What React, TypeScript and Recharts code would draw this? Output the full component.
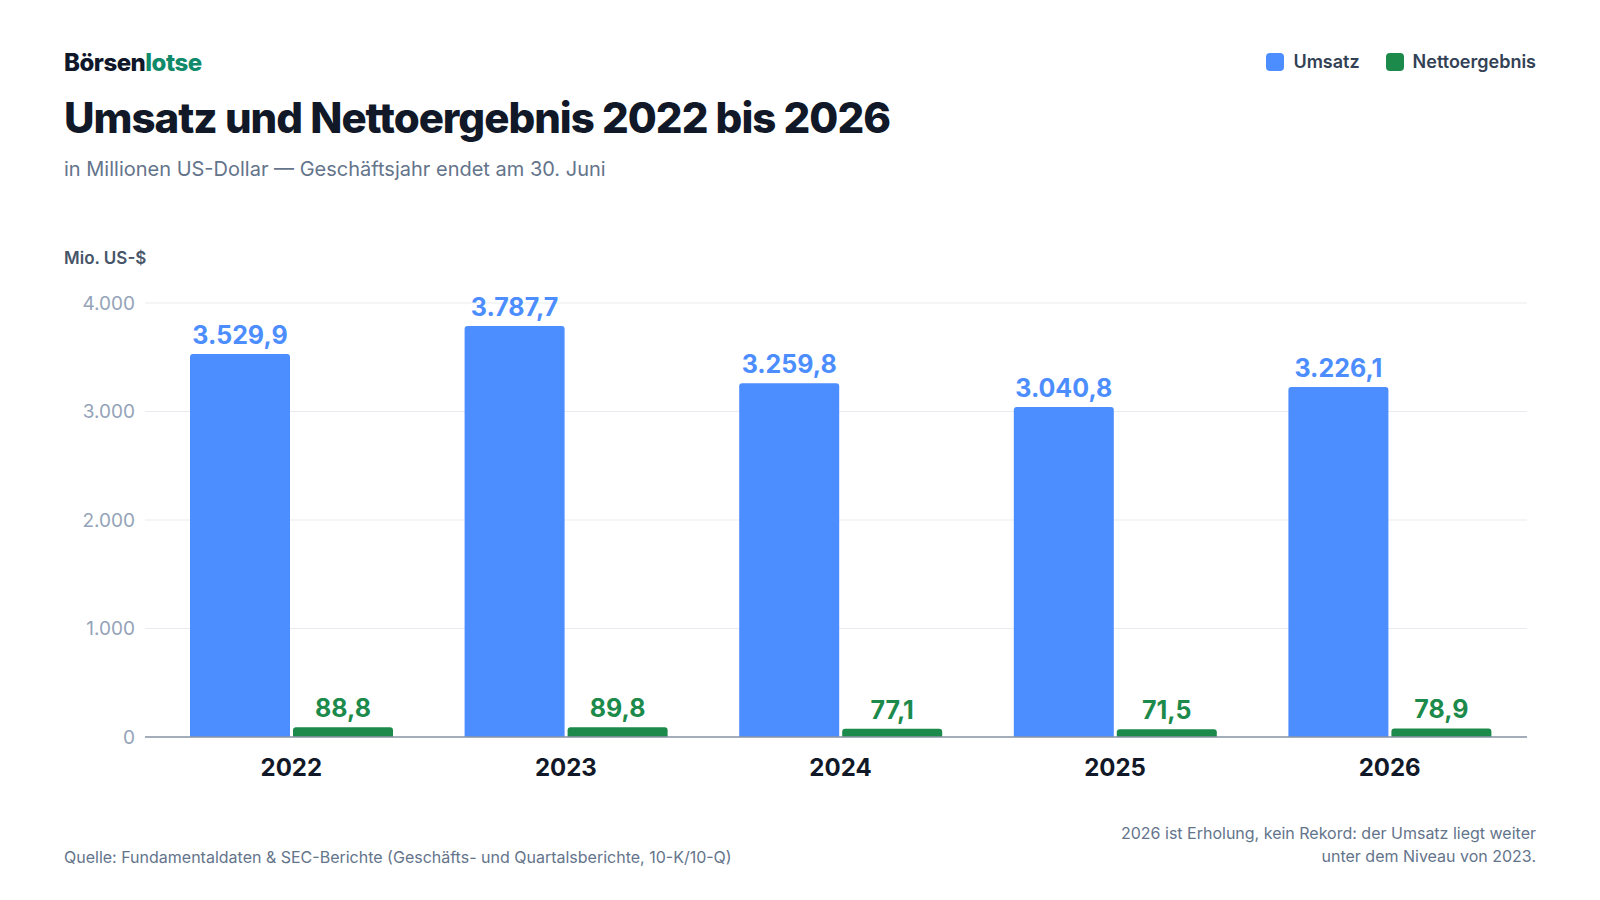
import { BarChart, Bar, XAxis, YAxis, CartesianGrid, LabelList } from "recharts"

const years = ["2022", "2023", "2024", "2025", "2026"]
const umsatz = [3529.9, 3787.7, 3259.8, 3040.8, 3226.1]
const netto = [88.8, 89.8, 77.1, 71.5, 78.9]
const yTicks = [0, 1000, 2000, 3000, 4000]

const data = years.map((y, i) => ({ year: y, umsatz: umsatz[i], netto: netto[i] }))

const de = (v: number, d: number) =>
  v.toLocaleString("de-DE", { minimumFractionDigits: d, maximumFractionDigits: d })

const font = "Inter, 'Noto Sans', sans-serif"

export default function App() {
  return (
    <div style={{ position: "absolute", left: 0, top: 0, width: 1600, height: 900, background: "#fff", fontFamily: font }}>
      <div style={{ position: "absolute", left: 64, top: 48, fontSize: 24, fontWeight: 800, color: "#0f172a", letterSpacing: -0.5 }}>
        Börsen<span style={{ color: "#0f8a6a" }}>lotse</span>
      </div>
      <div style={{ position: "absolute", left: 64, top: 92, fontSize: 42, fontWeight: 800, color: "#111827", letterSpacing: -1 }}>
        Umsatz und Nettoergebnis 2022 bis 2026
      </div>
      <div style={{ position: "absolute", left: 64, top: 157, fontSize: 20, color: "#64748b" }}>
        in Millionen US-Dollar — Geschäftsjahr endet am 30. Juni
      </div>
      <div style={{ position: "absolute", left: 64, top: 248, fontSize: 17, fontWeight: 600, color: "#475569" }}>
        Mio. US-$
      </div>
      <div style={{ position: "absolute", right: 64, top: 51, display: "flex", gap: 26, fontSize: 18, fontWeight: 600, color: "#334155" }}>
        <span style={{ display: "flex", alignItems: "center", gap: 9 }}>
          <span style={{ width: 18, height: 18, borderRadius: 4, background: "#4c8dff" }} />Umsatz
        </span>
        <span style={{ display: "flex", alignItems: "center", gap: 9 }}>
          <span style={{ width: 18, height: 18, borderRadius: 4, background: "#1b8a4a" }} />Nettoergebnis
        </span>
      </div>
      <div style={{ position: "absolute", left: 64, top: 847, fontSize: 16, color: "#64748b" }}>
        Quelle: Fundamentaldaten &amp; SEC-Berichte (Geschäfts- und Quartalsberichte, 10-K/10-Q)
      </div>
      <div style={{ position: "absolute", right: 64, top: 822, fontSize: 16, color: "#64748b", textAlign: "right", lineHeight: "23px" }}>
        2026 ist Erholung, kein Rekord: der Umsatz liegt weiter<br />unter dem Niveau von 2023.
      </div>
      <div style={{ position: "absolute", left: 0, top: 0 }}>
        <BarChart width={1600} height={900} data={data} margin={{ top: 303, right: 73, bottom: 133, left: 55 }}
          barSize={100} barGap={3}>
          <CartesianGrid vertical={false} stroke="#e8ebef" />
          <XAxis dataKey="year" padding={{ left: 9, right: 0 }} tickLine={false} axisLine={{ stroke: "#8a94a6", strokeWidth: 1.5 }}
            tick={{ fontSize: 24, fontWeight: 700, fill: "#111827", fontFamily: font, dy: 14 }} />
          <YAxis domain={[0, 4000]} ticks={yTicks} width={90} tickLine={false} axisLine={false}
            tickFormatter={(v: number) => de(v, 0)}
            tick={{ fontSize: 19, fill: "#94a3b8", fontFamily: font, dx: -2 }} />
          <Bar dataKey="umsatz" fill="#4c8dff" radius={[3, 3, 0, 0]} isAnimationActive={false}>
            <LabelList dataKey="umsatz" position="top" offset={10} formatter={(v: any) => de(Number(v), 1)}
              style={{ fontSize: 25, fontWeight: 700, fill: "#4c8dff", fontFamily: font }} />
          </Bar>
          <Bar dataKey="netto" fill="#1b8a4a" radius={[3, 3, 0, 0]} isAnimationActive={false}>
            <LabelList dataKey="netto" position="top" offset={10} formatter={(v: any) => de(Number(v), 1)}
              style={{ fontSize: 25, fontWeight: 700, fill: "#1b8a4a", fontFamily: font }} />
          </Bar>
        </BarChart>
      </div>
    </div>
  )
}
